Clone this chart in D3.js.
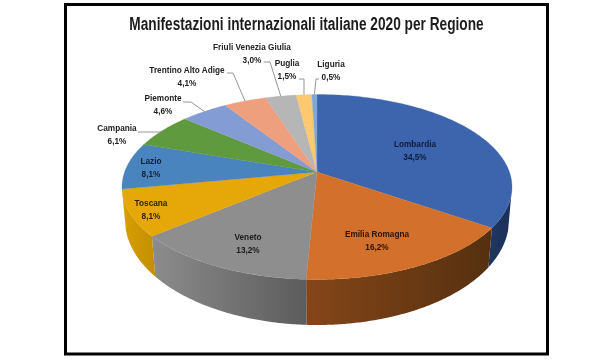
<!DOCTYPE html>
<html><head><meta charset="utf-8">
<script src="https://cdnjs.cloudflare.com/ajax/libs/d3/7.8.5/d3.min.js"></script>
<style>html,body{margin:0;padding:0;background:#fff}svg{display:block;filter:blur(.35px)}</style>
</head><body><svg id="c" width="600" height="360"></svg>
<script>
const titleText = "Manifestazioni internazionali italiane 2020 per Regione";
const regions = ["Lombardia","Emilia Romagna","Veneto","Toscana","Lazio","Campania","Piemonte","Trentino Alto Adige","Friuli Venezia Giulia","Puglia","Liguria"];
const shares = [34.5,16.2,13.2,8.1,8.1,6.1,4.6,4.1,3.0,1.5,0.5];
const shareLabels = ["34,5%","16,2%","13,2%","8,1%","8,1%","6,1%","4,6%","4,1%","3,0%","1,5%","0,5%"];
const topColors = ["#3c65ae","#d2702c","#8e8e8e","#e5a808","#4a84be","#5f9a3e","#839cd3","#ee9f7e","#b6b6b6","#fcc870","#7fa6d6"];
const wallLeft  = ["#1f3762","#854619","#8c8c8c","#d9a004","#3a6a9a","#4a7a30","#6a7fa8","#bd7f64","#909090","#c9a058","#6484aa"];
const wallRight = ["#1b3058","#55300f","#5c5c5c","#c28e02","#2f5c88","#3f6a28","#5a6e94","#a86e54","#808080","#b08a48","#567496"];

// layout
const G = {cx:317, cy:187, rx:195, ry:92.5, apexY:172, botCy:220, botRx:192, botRy:105, shrink:.98};
const a = (G.apexY-G.cy)/G.ry, sq = Math.sqrt(1-a*a);
const labelCenter = {
 "Lombardia":[415,144],"Emilia Romagna":[377,234],"Veneto":[248,237],"Toscana":[151,203],"Lazio":[151,161],
 "Campania":[117,128],"Piemonte":[163,98],"Trentino Alto Adige":[187,70],"Friuli Venezia Giulia":[252,47],
 "Puglia":[287,63],"Liguria":[331,64]};
const leaderStart = {
 "Campania":[[138,132],[163,132]],"Piemonte":[[183,102],[191,102]],"Trentino Alto Adige":[[227,73],[233,73]],
 "Friuli Venezia Giulia":[[264,62],[270,62]],"Puglia":[[299,79],[304,79]],"Liguria":[[319,79],[316,79]]};
const labelDark = ["#0d1c3c","#2a1405","#1c1c1c","#2c1e00","#0f2238","#222","#222","#222","#222","#222","#222"];

const svg = d3.select("#c");
svg.append("rect").attr("width",600).attr("height",360).attr("fill","#fff");
svg.append("rect").attr("x",65.5).attr("y",4.5).attr("width",482).attr("height",349.5)
   .attr("fill","#fff").attr("stroke","#000").attr("stroke-width",3);

const arcs = d3.pie().sort(null).value((d,i)=>shares[i])(regions);

function rim(t){
  const u=Math.sin(t), v=-Math.cos(t), d=1+a*v;
  return [G.cx+G.rx*u*sq/d, G.cy+G.ry*(v+a)/d];
}
function bottom(p){
  const dx=(p[0]-G.cx)*G.shrink, k=Math.min(1,Math.abs(dx)/G.botRx);
  return [G.cx+dx, G.botCy+G.botRy*Math.sqrt(1-k*k)];
}
const line=d3.line();
const defs=svg.append("defs");

// side walls, visible only where the rim lies on the front half
const tilt=Math.asin(-a);
const frontStart=Math.PI/2+tilt, frontEnd=Math.PI*1.5-tilt;
arcs.forEach((d,i)=>{
  const s=Math.max(d.startAngle,frontStart), e=Math.min(d.endAngle,frontEnd);
  if(e<=s) return;
  const ts=d3.range(0,121).map(j=>s+(e-s)*j/120);
  const up=ts.map(rim), lo=up.map(bottom).reverse();
  const xs=up.concat(lo).map(p=>p[0]);
  const id="w"+i;
  const g=defs.append("linearGradient").attr("id",id).attr("gradientUnits","userSpaceOnUse")
    .attr("x1",d3.min(xs)).attr("x2",d3.max(xs)).attr("y1",0).attr("y2",0);
  g.append("stop").attr("offset",0).attr("stop-color",wallLeft[i]);
  g.append("stop").attr("offset",1).attr("stop-color",wallRight[i]);
  svg.append("path").attr("d",line(up.concat(lo))+"Z").attr("fill",`url(#${id})`);
});

// top face
arcs.forEach((d,i)=>{
  const n=Math.max(6,Math.ceil((d.endAngle-d.startAngle)*60));
  const pts=[[G.cx,G.apexY]].concat(d3.range(0,n+1).map(j=>rim(d.startAngle+(d.endAngle-d.startAngle)*j/n)));
  svg.append("path").attr("d",line(pts)+"Z").attr("fill",topColors[i]).attr("stroke",topColors[i]).attr("stroke-width",.3);
});

// leaders
regions.forEach((r,i)=>{
  if(!leaderStart[r]) return;
  const d=arcs[i], p=rim((d.startAngle+d.endAngle)/2);
  svg.append("path").attr("d",line(leaderStart[r].concat([p]))).attr("fill","none").attr("stroke","#8a8a8a").attr("stroke-width",.9);
});

// labels
regions.forEach((r,i)=>{
  const c=labelCenter[r];
  const g=svg.append("g").attr("transform",`translate(${c[0]},${c[1]}) scale(.86,1)`)
    .attr("font-family","'Liberation Sans',Arial,sans-serif").attr("font-weight","700")
    .attr("font-size",9.6).attr("text-anchor","middle").attr("fill",labelDark[i]);
  g.append("text").attr("y",3.3).text(r);
  g.append("text").attr("y",15.6).text(shareLabels[i]);
});

svg.append("text").attr("transform","translate(306.5,29.5) scale(.74,1)").attr("text-anchor","middle")
  .attr("font-family","'Liberation Sans',Arial,sans-serif").attr("font-weight","700")
  .attr("font-size",18.5).attr("fill","#1c1c1c").text(titleText);
</script></body></html>
